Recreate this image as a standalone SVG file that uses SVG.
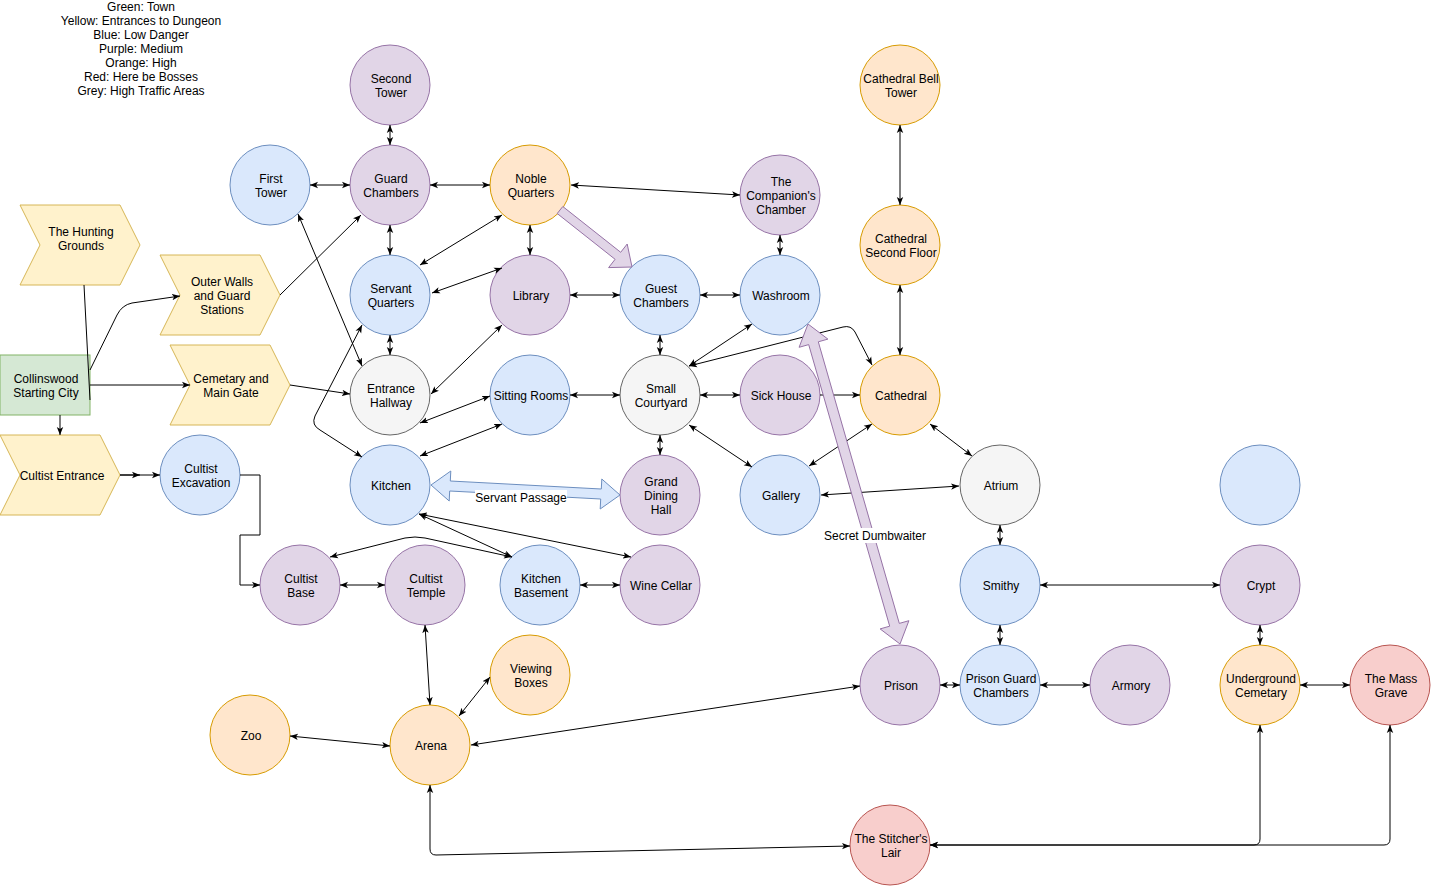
<svg xmlns="http://www.w3.org/2000/svg" width="1431" height="886" viewBox="0 0 1431 886">
<defs>
<marker id="a" viewBox="0 0 10 10" refX="10" refY="5" markerWidth="8" markerHeight="8" markerUnits="userSpaceOnUse" orient="auto-start-reverse"><path d="M0,1 L10,5 L0,9 L2.5,5 z" fill="#000"/></marker>
<style>
.t{font-family:"Liberation Sans",Arial,sans-serif;font-size:12px;text-anchor:middle;fill:#000}
#nodes .t,#connectors .t{transform:translate(1px,1px)}
.blue{fill:#dae8fc;stroke:#6c8ebf;stroke-width:1}
.pur{fill:#e1d5e7;stroke:#9673a6;stroke-width:1}
.org{fill:#ffe6cc;stroke:#d79b00;stroke-width:1}
.red{fill:#f8cecc;stroke:#b85450;stroke-width:1}
.gry{fill:#f5f5f5;stroke:#666666;stroke-width:1}
.yel{fill:#fff2cc;stroke:#d6b656;stroke-width:1}
.grn{fill:#d5e8d4;stroke:#82b366;stroke-width:1}
.e{fill:none;stroke:#000;stroke-width:1}
.b{marker-start:url(#a);marker-end:url(#a)}
.f{marker-end:url(#a)}
</style>
</defs>
<rect width="1431" height="886" fill="#fff"/>
<g id="legend" class="t">
<text x="141" y="11">Green: Town</text>
<text x="141" y="25">Yellow: Entrances to Dungeon</text>
<text x="141" y="39">Blue: Low Danger</text>
<text x="141" y="53">Purple: Medium</text>
<text x="141" y="67">Orange: High</text>
<text x="141" y="81">Red: Here be Bosses</text>
<text x="141" y="95">Grey: High Traffic Areas</text>
</g>
<g id="nodes">
<g id="collinswood"><rect x="0" y="355" width="90" height="60" class="grn"/><text class="t" x="45" y="382">Collinswood</text><text class="t" x="45" y="396">Starting City</text></g>
<g id="hunting-grounds"><polygon points="20,205 120,205 140,245 120,285 20,285 40,245" class="yel"/><text class="t" x="80" y="235">The Hunting</text><text class="t" x="80" y="249">Grounds</text></g>
<g id="outer-walls"><polygon points="160,255 260,255 280,295 260,335 160,335 180,295" class="yel"/><text class="t" x="221" y="285">Outer Walls</text><text class="t" x="221" y="299">and Guard</text><text class="t" x="221" y="313">Stations</text></g>
<g id="cemetary-gate"><polygon points="170,345 270,345 290,385 270,425 170,425 190,385" class="yel"/><text class="t" x="230" y="382">Cemetary and</text><text class="t" x="230" y="396">Main Gate</text></g>
<g id="cultist-entrance"><polygon points="0,435 100,435 120,475 100,515 0,515 20,475" class="yel"/><text class="t" x="61" y="479">Cultist Entrance</text></g>

<g id="second-tower"><circle cx="390" cy="85" r="40" class="pur"/><text class="t" x="390" y="82">Second</text><text class="t" x="390" y="96">Tower</text></g>
<g id="first-tower"><circle cx="270" cy="185" r="40" class="blue"/><text class="t" x="270" y="182">First</text><text class="t" x="270" y="196">Tower</text></g>
<g id="guard-chambers"><circle cx="390" cy="185" r="40" class="pur"/><text class="t" x="390" y="182">Guard</text><text class="t" x="390" y="196">Chambers</text></g>
<g id="noble-quarters"><circle cx="530" cy="185" r="40" class="org"/><text class="t" x="530" y="182">Noble</text><text class="t" x="530" y="196">Quarters</text></g>
<g id="companions-chamber"><circle cx="780" cy="195" r="40" class="pur"/><text class="t" x="780" y="185">The</text><text class="t" x="780" y="199">Companion's</text><text class="t" x="780" y="213">Chamber</text></g>
<g id="cathedral-bell-tower"><circle cx="900" cy="85" r="40" class="org"/><text class="t" x="900" y="82">Cathedral Bell</text><text class="t" x="900" y="96">Tower</text></g>
<g id="cathedral-second-floor"><circle cx="900" cy="245" r="40" class="org"/><text class="t" x="900" y="242">Cathedral</text><text class="t" x="900" y="256">Second Floor</text></g>
<g id="servant-quarters"><circle cx="390" cy="295" r="40" class="blue"/><text class="t" x="390" y="292">Servant</text><text class="t" x="390" y="306">Quarters</text></g>
<g id="library"><circle cx="530" cy="295" r="40" class="pur"/><text class="t" x="530" y="299">Library</text></g>
<g id="guest-chambers"><circle cx="660" cy="295" r="40" class="blue"/><text class="t" x="660" y="292">Guest</text><text class="t" x="660" y="306">Chambers</text></g>
<g id="washroom"><circle cx="780" cy="295" r="40" class="blue"/><text class="t" x="780" y="299">Washroom</text></g>
<g id="entrance-hallway"><circle cx="390" cy="395" r="40" class="gry"/><text class="t" x="390" y="392">Entrance</text><text class="t" x="390" y="406">Hallway</text></g>
<g id="sitting-rooms"><circle cx="530" cy="395" r="40" class="blue"/><text class="t" x="530" y="399">Sitting Rooms</text></g>
<g id="small-courtyard"><circle cx="660" cy="395" r="40" class="gry"/><text class="t" x="660" y="392">Small</text><text class="t" x="660" y="406">Courtyard</text></g>
<g id="sick-house"><circle cx="780" cy="395" r="40" class="pur"/><text class="t" x="780" y="399">Sick House</text></g>
<g id="cathedral"><circle cx="900" cy="395" r="40" class="org"/><text class="t" x="900" y="399">Cathedral</text></g>
<g id="kitchen"><circle cx="390" cy="485" r="40" class="blue"/><text class="t" x="390" y="489">Kitchen</text></g>
<g id="grand-dining-hall"><circle cx="660" cy="495" r="40" class="pur"/><text class="t" x="660" y="485">Grand</text><text class="t" x="660" y="499">Dining</text><text class="t" x="660" y="513">Hall</text></g>
<g id="gallery"><circle cx="780" cy="495" r="40" class="blue"/><text class="t" x="780" y="499">Gallery</text></g>
<g id="atrium"><circle cx="1000" cy="485" r="40" class="gry"/><text class="t" x="1000" y="489">Atrium</text></g>
<g id="unnamed"><circle cx="1260" cy="485" r="40" class="blue"/></g>
<g id="cultist-excavation"><circle cx="200" cy="475" r="40" class="blue"/><text class="t" x="200" y="472">Cultist</text><text class="t" x="200" y="486">Excavation</text></g>
<g id="cultist-base"><circle cx="300" cy="585" r="40" class="pur"/><text class="t" x="300" y="582">Cultist</text><text class="t" x="300" y="596">Base</text></g>
<g id="cultist-temple"><circle cx="425" cy="585" r="40" class="pur"/><text class="t" x="425" y="582">Cultist</text><text class="t" x="425" y="596">Temple</text></g>
<g id="kitchen-basement"><circle cx="540" cy="585" r="40" class="blue"/><text class="t" x="540" y="582">Kitchen</text><text class="t" x="540" y="596">Basement</text></g>
<g id="wine-cellar"><circle cx="660" cy="585" r="40" class="pur"/><text class="t" x="660" y="589">Wine Cellar</text></g>
<g id="smithy"><circle cx="1000" cy="585" r="40" class="blue"/><text class="t" x="1000" y="589">Smithy</text></g>
<g id="crypt"><circle cx="1260" cy="585" r="40" class="pur"/><text class="t" x="1260" y="589">Crypt</text></g>
<g id="viewing-boxes"><circle cx="530" cy="675" r="40" class="org"/><text class="t" x="530" y="672">Viewing</text><text class="t" x="530" y="686">Boxes</text></g>
<g id="zoo"><circle cx="250" cy="735" r="40" class="org"/><text class="t" x="250" y="739">Zoo</text></g>
<g id="arena"><circle cx="430" cy="745" r="40" class="org"/><text class="t" x="430" y="749">Arena</text></g>
<g id="prison"><circle cx="900" cy="685" r="40" class="pur"/><text class="t" x="900" y="689">Prison</text></g>
<g id="prison-guard-chambers"><circle cx="1000" cy="685" r="40" class="blue"/><text class="t" x="1000" y="682">Prison Guard</text><text class="t" x="1000" y="696">Chambers</text></g>
<g id="armory"><circle cx="1130" cy="685" r="40" class="pur"/><text class="t" x="1130" y="689">Armory</text></g>
<g id="underground-cemetary"><circle cx="1260" cy="685" r="40" class="org"/><text class="t" x="1260" y="682">Underground</text><text class="t" x="1260" y="696">Cemetary</text></g>
<g id="mass-grave"><circle cx="1390" cy="685" r="40" class="red"/><text class="t" x="1390" y="682">The Mass</text><text class="t" x="1390" y="696">Grave</text></g>
<g id="stitchers-lair"><circle cx="890" cy="845" r="40" class="red"/><text class="t" x="890" y="842">The Stitcher's</text><text class="t" x="890" y="856">Lair</text></g>
</g>
<g id="connectors">
<path class="e" d="M84,285 L90,400"/>
<g class="e f">
<path d="M820,395 L860,395"/>
<path d="M240,475 L260,475 L260,535 L240,535 L240,585 L260,585"/>
<path d="M120,475 L160,475"/>
<path d="M120,475 L140,475"/>
<path d="M60,415 L60,435"/>
<path d="M90,385 L190,385"/>
<path d="M90,370 L117,315 Q122,305 132,303 L180,296"/>
<path d="M280,295 L361,215"/>
<path d="M290,385 L350,394"/>
</g>
<g class="e b">
<path d="M390,125 L390,145"/>
<path d="M310,185 L350,185"/>
<path d="M430,185 L490,185"/>
<path d="M571,185 L740,195"/>
<path d="M390,225 L390,255"/>
<path d="M530,225 L530,255"/>
<path d="M502,215 L420,265"/>
<path d="M502,268 L432,293"/>
<path d="M570,295 L620,295"/>
<path d="M700,295 L740,295"/>
<path d="M780,235 L780,255"/>
<path d="M660,335 L660,355"/>
<path d="M752,324 L689,366"/>
<path d="M689,366 L843,327 Q851,325 855,332 L872,365"/>
<path d="M390,335 L390,355"/>
<path d="M502,325 L431,394"/>
<path d="M420,423 L490,396"/>
<path d="M420,456 L502,424"/>
<path d="M570,395 L620,395"/>
<path d="M700,395 L740,395"/>
<path d="M660,435 L660,455"/>
<path d="M689,425 L752,467"/>
<path d="M872,424 L809,466"/>
<path d="M930,424 L972,456"/>
<path d="M821,495 L959,486"/>
<path d="M900,125 L900,205"/>
<path d="M900,285 L900,355"/>
<path d="M1000,525 L1000,545"/>
<path d="M1040,585 L1220,585"/>
<path d="M1260,625 L1260,645"/>
<path d="M1000,625 L1000,645"/>
<path d="M940,685 L960,685"/>
<path d="M1040,685 L1090,685"/>
<path d="M1300,685 L1350,685"/>
<path d="M930,845 L1254,845 Q1260,845 1260,839 L1260,725"/>
<path d="M930,845 L1384,845 Q1390,845 1390,839 L1390,725"/>
<path d="M430,785 L430,849 Q430,855 436,855 L850,846"/>
<path d="M471,745 L860,686"/>
<path d="M290,736 L390,746"/>
<path d="M459,716 L490,677"/>
<path d="M425,625 L430,705"/>
<path d="M340,585 L385,585"/>
<path d="M298,214 L362,366"/>
<path d="M362,325 L315,416 Q311,425 320,430 L362,457"/>
<path d="M419,514 L512,557"/>
<path d="M419,514 L631,557"/>
<path d="M512,557 L425,538 Q415,536 405,538 L330,557"/>
<path d="M580,585 L620,585"/>
</g>
<polygon class="pur" points="557.2,213.5 615.1,259.3 608.6,267.6 632,267 627.2,244 620.7,252.3 562.8,206.5"/>
<polygon class="blue" points="431,485 450.8,471 450.3,481 601.3,489 601.8,479 620,495 600.2,509 600.7,499 449.7,491 449.2,501"/>
<rect x="475" y="490" width="92" height="15" fill="#fff"/>
<text class="t" x="520" y="501">Servant Passage</text>
<polygon class="pur" points="808,324 799.1,347.3 808.7,344.6 889.7,626.2 880.1,628.9 900,644 908.9,620.7 899.3,623.4 818.3,341.8 827.9,339.1"/>
<rect x="824" y="528" width="103" height="15" fill="#fff"/>
<text class="t" x="874" y="539">Secret Dumbwaiter</text>
</g>
</svg>
